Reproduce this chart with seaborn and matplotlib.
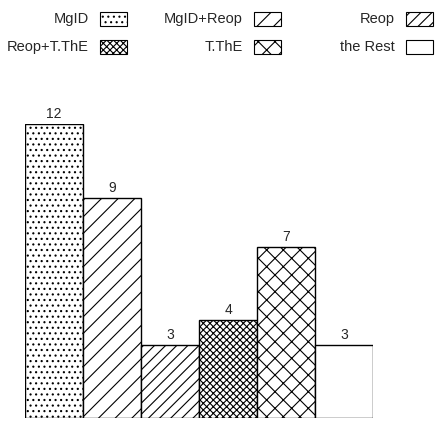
import matplotlib
matplotlib.use('Agg')
import matplotlib.pyplot as plt
import matplotlib.patches as mpatches
import seaborn as sns

# Categorias e valores
categorias = ['MgID', 'MgID+Reop', 'Reop', 'Reop+T.ThE', 'T.ThE', 'the Rest']
valores = [12, 9, 3, 4, 7, 3]
hachuras = ['...', '//', '///', 'xxxxx', 'xx', '']

sns.set_style('white')
plt.rcParams['font.family'] = ['Liberation Sans', 'DejaVu Sans']
plt.rcParams['hatch.linewidth'] = 0.8

W, H = 436, 422
fig = plt.figure(figsize=(W / 100, H / 100), dpi=100)
ax = fig.add_axes([25 / W, 4 / H, 348 / W, 294 / H])

sns.barplot(x=categorias, y=valores, color='white', saturation=1,
            edgecolor='black', linewidth=1.0, width=1.0, ax=ax)

for barra, h in zip(ax.patches, hachuras):
    barra.set_hatch(h)

# Rótulos acima das barras
for i, v in enumerate(valores):
    ax.text(i, v + 0.12, str(v), ha='center', va='bottom', fontsize=10, clip_on=False)

ax.set_ylim(0, 12)
ax.set_xlim(-0.5, 5.5)
ax.axis('off')

# Legenda manual: 2 linhas x 3 colunas, texto à esquerda da amostra
col_x = [100, 254, 406]   # borda esquerda da amostra (pixels)
lin_y = [19, 47]          # centro da linha (pixels a partir do topo)
for k, (nome, h) in enumerate(zip(categorias, hachuras)):
    lin, col = divmod(k, 3)
    x0, yc = col_x[col], lin_y[lin]
    fig.text((x0 - 11) / W, 1 - yc / H, nome, ha='right', va='center', fontsize=10.5)
    fig.add_artist(mpatches.Rectangle(((x0) / W, 1 - (yc + 6.5) / H), 27 / W, 13 / H,
                                      transform=fig.transFigure, facecolor='white',
                                      edgecolor='black', hatch=h, linewidth=0.8))

fig.savefig('out.png', dpi=100)
